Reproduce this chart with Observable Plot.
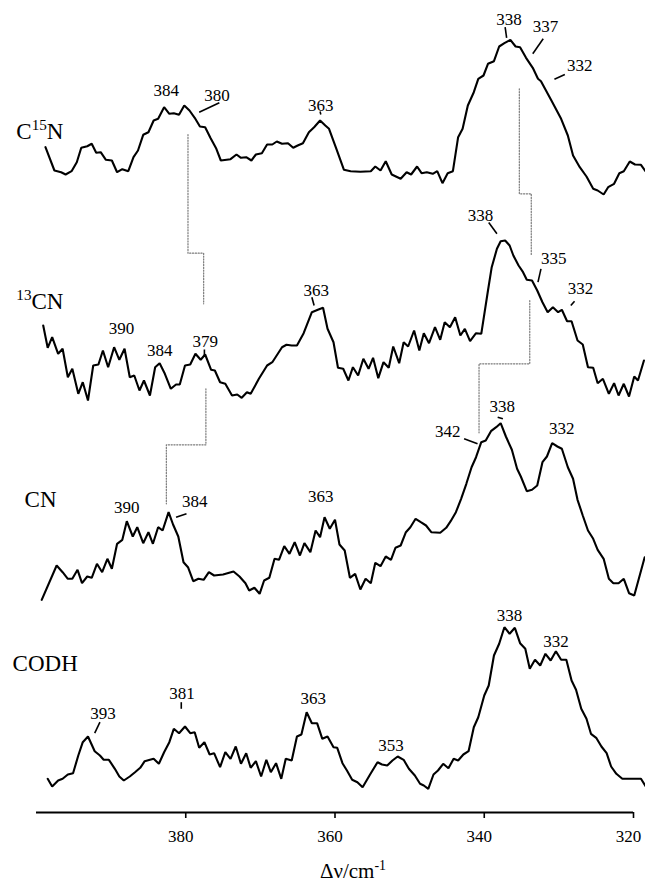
<!DOCTYPE html>
<html>
<head>
<meta charset="utf-8">
<script src="https://cdn.jsdelivr.net/npm/d3@7"></script>
<script src="https://cdn.jsdelivr.net/npm/@observablehq/plot@0.6"></script>
<style>
  body { margin: 0; background: #fff; }
</style>
</head>
<body>
<div id="chart"></div>
<script>
// Resonance Raman spectra of CODH and its cyanide adducts (Raman shift in cm^-1, intensity in arbitrary units)

const serif = "Liberation Serif, Times New Roman, serif";

const traces = ["C^{15}N", "^{13}CN", "CN", "CODH"];

// vertical stacking offset of each spectrum (arbitrary intensity units)
const offsets = [612, 412, 212, 22];

const tickValues = [380, 360, 340, 320];

// C15N spectrum
const c15nShift = [398.8,397.6,396.7,396.1,395.3,394.6,394.0,393.2,392.6,392.0,
  391.4,390.7,389.9,389.2,388.5,387.7,387.0,386.4,385.7,385.0,
  384.3,383.7,382.9,382.2,381.6,380.9,380.2,379.5,378.8,378.1,
  377.4,376.7,375.9,375.3,374.0,373.2,372.6,371.9,371.2,370.6,
  369.8,369.1,368.4,367.8,367.1,366.3,365.6,365.0,364.3,363.5,
  362.8,362.0,361.3,360.8,359.9,358.8,357.9,356.6,355.2,354.6,
  353.9,353.2,352.4,351.2,350.4,349.8,349.0,348.4,347.7,346.9,
  346.3,345.6,344.9,344.2,343.5,342.9,342.2,341.4,340.8,340.1,
  339.5,338.7,338.0,337.3,336.5,335.8,335.2,334.4,333.5,332.8,
  332.4,331.0,329.7,328.8,328.1,327.2,326.3,325.4,324.8,324.0,
  323.4,322.6,321.9,321.3,320.5,319.8,319.0,318.4];
const c15nIntensity = [53.3,30,28.3,26,29.3,38.3,52.7,54.3,56.7,47.7,
  48.3,40.7,40,28.3,31.3,29.3,43.3,50,65.7,68.3,
  80,81.7,93.3,86.7,87.3,85.7,95,90,82.7,74,
  73.3,62.7,51.7,40,41.3,46,42.7,43.3,40,46,
  47.3,56,56,59,56.7,57.3,52.7,55,57.3,68.3,
  73.3,80,75,71.7,53.3,30.7,29.3,28.7,29.3,34,
  30,39.3,26,21.7,28.3,26,34,27.3,28.3,26.7,
  29.3,17.3,27.3,29.3,63.3,71.7,95,108.3,121.7,125,
  136.7,139.3,154,157.3,160.7,154,153.3,142.7,132.7,121.7,
  119.3,100,81.7,65,45,33.3,24,11.7,10,6,
  13.3,16.7,27.3,29.3,39,36,35.7,29.3];

// 13CN spectrum
const c13nShift = [399.1,398.5,397.9,397.1,396.5,395.8,395.2,394.4,393.8,393.1,
  392.4,391.7,391.1,390.4,389.6,388.9,388.2,387.5,386.9,386.2,
  385.6,384.8,384.1,383.5,382.8,382.0,381.3,380.8,380.1,379.4,
  378.7,378.0,377.4,376.6,376.1,375.4,374.7,373.8,373.1,372.5,
  371.8,371.3,370.2,369.1,368.4,367.1,366.5,365.8,365.1,364.2,
  363.1,362.3,361.6,361.0,360.2,359.6,358.9,358.2,357.6,356.9,
  356.2,355.5,354.9,354.2,353.5,352.8,352.2,351.4,350.8,350.2,
  349.4,348.7,348.1,347.4,346.6,345.9,345.3,344.6,343.9,343.2,
  342.6,341.9,341.1,340.4,339.5,339.0,338.3,337.8,337.2,336.6,
  336.1,335.4,334.8,334.3,333.6,332.9,332.2,331.5,330.8,330.1,
  329.6,328.9,328.3,327.5,326.8,326.1,325.4,324.8,324.1,323.3,
  322.6,322.0,321.3,320.6,319.9,319.4,318.6];
const c13nIntensity = [75,52.7,63.3,46.7,51.7,23.3,31.7,6.7,18.3,0,
  35,36,50,33.3,53.3,40.7,51.7,23.3,25,10,
  20,5,33.3,37.3,26.7,11.7,16,16,35,36,
  46.7,40.7,46,30.7,30,18.3,16.7,5,6,2.7,
  8.3,6.7,21.7,35,38.3,53.3,55.7,55,55,67.3,
  88.3,90.7,92.7,71.7,58.3,32.7,31.7,20,33.3,25,
  41.7,31.7,42.7,22.3,38.3,32.7,54,37.3,58.3,54,
  70,50,67.3,57.3,73.3,60.7,78.3,73.3,83.3,65,
  71.7,59.3,67.3,66.7,110,133.3,151.7,159.3,160,155,
  145,135,128.3,120.7,120,110,98.3,88.3,93.3,88.3,
  90.7,79.3,79.3,60,56,33.3,32.7,17.3,21.7,6.7,
  17.3,5,16.7,4,24,20,40];

// CN spectrum
const cnShift = [399.3,397.3,396.5,395.8,395.2,394.5,393.9,393.2,392.6,391.9,
  391.2,390.5,389.9,389.2,388.5,387.9,387.1,386.5,385.7,385.0,
  384.4,383.7,383.1,382.3,381.7,381.0,380.3,379.7,379.0,378.3,
  377.6,376.9,376.2,375.0,373.6,372.8,372.0,371.5,370.8,370.1,
  369.5,368.8,368.1,367.5,366.8,366.1,365.4,364.7,364.1,363.3,
  362.6,362.0,361.4,360.7,360.0,359.4,358.7,358.0,357.3,356.6,
  355.9,355.2,354.6,353.9,353.2,352.5,351.9,351.2,350.5,349.9,
  349.2,348.5,347.8,347.1,345.9,345.1,344.5,343.8,343.1,342.4,
  341.7,341.1,340.4,339.8,339.1,338.4,337.8,337.1,336.3,335.6,
  335.1,334.3,333.6,332.9,332.2,331.6,330.9,330.2,329.6,328.8,
  328.1,327.5,326.8,326.1,325.4,324.8,324.0,323.3,322.7,322.0,
  321.3,320.6,319.9,318.5];
const cnIntensity = [0.7,35,28.3,21.7,21.7,30.7,17.3,24,22.7,36.7,
  28.3,41.7,31.7,56.7,60.7,79.3,64,73.3,57.3,68.3,
  56.7,73.3,70,88.3,76,64,38.3,33.3,19.3,21.7,
  20.7,28.3,25,26,29,24,17.3,10,12.7,6.7,
  20,22.7,41.7,40.7,54.3,46.7,58.3,45,57.3,48.3,
  70,63.3,83.3,71.7,80.7,56,50,22.7,26.7,11,
  21.7,17.3,37.7,34.3,44,40.7,52.7,55,68.3,73.3,
  81.7,78.3,75,68.3,67.7,72.7,79.3,88.3,101.7,116.7,
  133.3,143.3,158.3,160,169.3,173.3,177.3,164,150.7,131.7,
  124,109.3,110.7,115,138.3,144,157.3,154,151.7,133.3,
  121.7,100.7,85,70,61.7,50.7,41.7,21.7,17.3,17.3,
  21.7,7.3,5,43.3];

// CODH spectrum
const codhShift = [398.5,397.9,397.1,396.5,395.8,395.1,394.4,393.8,393.1,392.2,
  391.5,391.0,390.3,389.5,388.9,388.3,387.5,386.8,386.1,385.5,
  384.8,384.3,383.6,382.9,382.2,381.6,380.9,380.1,379.4,378.8,
  378.2,377.5,376.8,376.2,375.4,374.7,374.0,373.3,372.6,371.9,
  371.3,370.6,369.9,369.2,368.6,367.9,367.2,366.6,365.8,365.1,
  364.5,363.8,363.1,362.4,361.7,361.0,360.2,359.7,359.0,358.4,
  357.7,357.0,356.3,355.3,354.3,353.7,353.0,352.3,351.6,350.8,
  350.1,349.3,348.6,348.1,347.5,346.8,346.2,345.5,344.8,344.1,
  343.5,342.8,342.1,341.4,340.8,340.0,339.4,338.7,338.0,337.3,
  336.6,335.9,335.2,334.5,333.9,333.2,332.5,331.8,331.1,330.4,
  329.7,329.0,328.3,327.7,327.0,326.3,325.7,325.0,324.3,323.6,
  323.0,322.3,321.5,320.3,319.0,318.3];
const codhIntensity = [11.7,4,10,11.7,16,17.3,35,48.3,54,39.3,
  35,30.7,30.7,21.7,14,10,14,18.3,22.7,29.3,
  30.7,31.7,26.7,38.3,48.3,61.7,57.3,64,57.3,58.3,
  42.7,48.3,36,37.3,23.3,38.3,31.7,44,26.7,37.3,
  22.7,29.3,14,30.7,18.3,27.3,11.7,31.7,30,54,
  56,78.3,67.3,67.3,51.7,54,43.3,42.7,27.3,20,
  10.7,8.3,3.3,16,28.3,26,25,30,34,30.7,
  21.7,15,6.7,5,1.7,16,20,26.7,22.3,31.7,
  30,36,39.3,63.3,73.3,95,105,135,146.7,163.3,
  156.7,162.7,147.3,141.7,121.7,130.7,125,136.7,130,139.3,
  130.7,130.7,110,100.7,81.7,71.7,56.7,52.7,44,37.3,
  24,16.7,11.7,11.7,11.7,3.3];

const shifts = [c15nShift, c13nShift, cnShift, codhShift];
const intensities = [c15nIntensity, c13nIntensity, cnIntensity, codhIntensity];

// peak assignments: [trace index, peak value (cm^-1), label shift, label intensity]
const peaks = [
  [0, 384, 382.6, 105], [0, 380, 375.8, 100], [0, 363, 361.9, 90],
  [0, 338, 336.7, 176], [0, 337, 331.8, 168.3], [0, 332, 327.2, 130],
  [1, 390, 388.6, 66.7], [1, 384, 383.5, 45], [1, 379, 377.4, 53.3], [1, 363, 362.5, 105],
  [1, 338, 340.5, 180], [1, 335, 330.7, 136.7], [1, 332, 327.1, 106.7],
  [2, 390, 387.9, 87.3], [2, 384, 378.8, 94], [2, 363, 361.9, 98.3],
  [2, 342, 344.9, 163.3], [2, 338, 337.6, 188.3], [2, 332, 329.6, 166.7],
  [3, 393, 391.1, 71.7], [3, 381, 380.5, 91.7], [3, 363, 362.9, 86.7],
  [3, 353, 352.5, 39.3], [3, 338, 336.6, 169.3], [3, 332, 330.4, 143.3]
];

// leader strokes from labels to peaks: [trace index, shift1, intensity1, shift2, intensity2]
const leaders = [
  [0, 378.2, 88.3, 375.5, 97.7], [0, 362.0, 89, 361.9, 86], [0, 337.2, 173.3, 337.0, 162.7],
  [0, 332.1, 161.7, 333.5, 146.7], [0, 329.2, 126, 330.6, 121.3],
  [1, 377.5, 51, 377.5, 44], [1, 363.1, 103.3, 362.8, 95], [1, 339.4, 178, 338.3, 166.7],
  [1, 332.4, 131.7, 332.8, 118.3], [1, 327.9, 99.3, 328.4, 95],
  [2, 381.3, 83.3, 379.9, 86.7], [2, 342.7, 161.7, 340.9, 156.7], [2, 338.2, 183.3, 337.5, 181.7],
  [3, 391.5, 68.3, 392.2, 57.3], [3, 380.6, 88.3, 380.6, 81.7]
];

// spectrum names: [trace index, shift, intensity]
const names = [[0, 402.7, 61.7], [1, 402.7, 91.7], [2, 401.6, 93.3], [3, 403.2, 119.3]];

// isotope-shift correlation guides (shift, stacked intensity)
const guides = [
  [[379.7, 678], [379.7, 559.3], [377.6, 559.3], [377.6, 508.7]],
  [[335.3, 723.7], [335.3, 618.7], [333.7, 618.7], [333.7, 557]],
  [[377.3, 423.7], [377.3, 367.7], [382.6, 367.7], [382.6, 308.7]],
  [[333.9, 512], [333.9, 448.7], [340.7, 448.7], [340.7, 379.7]]
];

const axisTitle = {text: "Δν/cm^{-1}", x: 357.6, y: -65};

// tidy rows for the marks
const spectra = traces.flatMap((name, i) =>
  shifts[i].map((s, j) => ({trace: name, shift: s, y: intensities[i][j] + offsets[i]}))
);
const peakRows = peaks.map(([i, v, x, y]) => ({text: String(v), x, y: y + offsets[i]}));
const leaderRows = leaders.map(([i, x1, y1, x2, y2]) => ({x1, x2, y1: y1 + offsets[i], y2: y2 + offsets[i]}));
const nameRows = names.map(([i, x, y]) => ({text: traces[i], x, y: y + offsets[i]}));
const guideRows = guides.flatMap((path, k) => path.map(([x, y]) => ({path: k, x, y})));

const chart = Plot.plot({
  width: 645,
  height: 888,
  marginLeft: 36,
  marginRight: 12,
  marginTop: 0,
  marginBottom: 76,
  x: {domain: [400, 320]},
  y: {domain: [0, 812], axis: null},
  style: {fontFamily: serif, background: "#fff", color: "#000"},
  marks: [
    Plot.ruleY([0], {strokeWidth: 1.8}),
    Plot.axisX({ticks: tickValues, tickSize: 6, tickFormat: () => "", strokeWidth: 1.6, label: null}),
    Plot.axisX({ticks: tickValues, tickSize: 0, tickPadding: 17, dx: -5, fontSize: 17, fontFamily: serif, label: null}),
    Plot.line(guideRows, {x: "x", y: "y", z: "path", stroke: "#7a7a7a", strokeWidth: 1.2, strokeDasharray: "1.2,1.6"}),
    Plot.line(spectra, {x: "shift", y: "y", z: "trace", stroke: "#000", strokeWidth: 2.1, strokeLinejoin: "miter"}),
    Plot.link(leaderRows, {x1: "x1", y1: "y1", x2: "x2", y2: "y2", stroke: "#000", strokeWidth: 1.6}),
    Plot.text(peakRows, {x: "x", y: "y", text: "text", lineAnchor: "bottom", fontSize: 17, fontFamily: serif, fill: "#000"}),
    Plot.text(nameRows, {x: "x", y: "y", text: "text", textAnchor: "start", lineAnchor: "bottom", fontSize: 23, fontFamily: serif, fill: "#000"}),
    Plot.text([axisTitle], {x: "x", y: "y", text: "text", lineAnchor: "bottom", fontSize: 21, fontFamily: serif, fill: "#000"})
  ]
});

// turn ^{...} markup into raised tspans
function setSuperscripts(svg) {
  svg.querySelectorAll("text").forEach((node) => {
    const s = node.textContent;
    if (!s.includes("^{")) return;
    node.textContent = "";
    let raised = false;
    for (const part of s.split(/(\^\{[^}]*\})/)) {
      if (!part) continue;
      const span = document.createElementNS("http://www.w3.org/2000/svg", "tspan");
      const m = part.match(/^\^\{(.*)\}$/);
      if (m) {
        span.textContent = m[1];
        span.setAttribute("font-size", "0.66em");
        if (!raised) span.setAttribute("dy", "-0.55em");
        raised = true;
      } else {
        span.textContent = part;
        if (raised) span.setAttribute("dy", "0.36em");
        raised = false;
      }
      node.appendChild(span);
    }
  });
}
setSuperscripts(chart);

document.getElementById("chart").appendChild(chart);
</script>
</body>
</html>
